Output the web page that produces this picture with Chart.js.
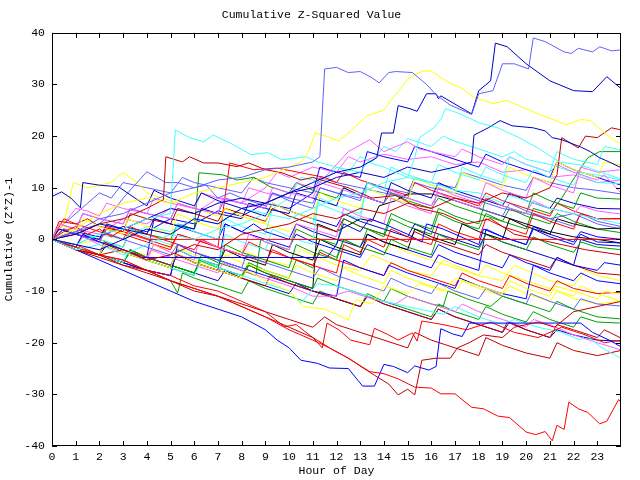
<!DOCTYPE html>
<html>
<head>
<meta charset="utf-8">
<script src="https://cdn.jsdelivr.net/npm/chart.js@4"></script>
<style>
  html, body { margin: 0; padding: 0; background: #fff; }
  #wrap { width: 640px; height: 480px; }
</style>
</head>
<body>
<div id="wrap"><canvas id="chart" width="640" height="480"></canvas></div>
<script>
// Tick values
const hourTicks = [0,1,2,3,4,5,6,7,8,9,10,11,12,13,14,15,16,17,18,19,20,21,22,23];
const valueTicks = [-40,-30,-20,-10,0,10,20,30,40];

// Each walk: [hour, cumulative value] breakpoints
const walkA = [[0,0],[1,1.5],[2,4],[3,5],[4,7],[5,9],[6,10],[7,11.5],[8,12],[9,13.5],[10,14],[11,15],[11.3,16],[11.5,33],[12,33.3],[12.5,32.3],[13,32.5],[13.5,31.3],[13.8,30.3],[14.2,32.3],[14.5,32.5],[15.2,32.3],[15.8,30],[16.2,28],[16.8,26],[17.7,24.2],[18,28.2],[18.6,28.8],[19,34],[19.5,34],[20.1,33],[20.3,39],[20.8,38.3],[21.6,36.3],[21.9,36],[22.2,37],[22.8,36.3],[23.1,37.3],[23.6,36.5],[24,36.7]];
const walkB = [[0,0],[1,-1],[2,-2],[3,0],[4,2],[5,1],[6,4],[7,3],[8,6],[9,7],[10,9],[11,11],[12,13],[13,14],[13.7,15.8],[13.9,20.6],[14.4,20.6],[14.6,25.9],[15.1,25.3],[15.4,24.8],[15.8,28.2],[16.2,28.2],[16.3,27.2],[16.4,27.8],[17.7,24.3],[18,28.8],[18.5,30.7],[18.7,38],[19.2,37.3],[20,34],[21,30.7],[22,28.8],[22.8,28.6],[23.4,31.5],[24,29.2]];
const walkC = [[0,0],[1,2],[2,5],[3,7],[4,8],[5,7],[6,9],[7,10],[8,11],[9,12],[10,14],[10.5,15],[10.8,16.8],[11.1,20.6],[11.7,19.8],[12.1,19],[12.6,21],[13.3,24],[14,25],[14.3,26.9],[15,31],[15.6,32.6],[16,32.6],[16.6,30.7],[17.3,29.2],[17.8,27.5],[18.6,26.3],[19.2,26.9],[19.7,25.9],[20.5,24.3],[21.7,22.2],[22.3,23.2],[22.7,23],[23.4,20.3],[24,18.3]];
const walkD = [[0,0],[1,-1],[2,1],[3,2],[4,4],[5,5],[5.2,21.2],[5.8,19.7],[6.4,18.9],[6.8,20.2],[7.5,18.7],[8.4,16.4],[9.1,16.8],[9.7,15.4],[10.7,16],[11.2,15],[12,14],[13,13],[13.3,15],[14,14],[15,12],[16,11],[17,9.5],[18,9],[19,7],[19.3,8.5],[20,7.5],[21,6],[22,5],[23,4],[24,3]];
const walkE = [[0,0],[1,-2],[2,-1],[3,-3],[4,-1],[5,1],[6,0],[7,2],[8,3],[9,5],[10,4],[11,6],[12,8],[13,9],[14,11],[15,12],[15.3,15.8],[15.5,19.7],[16.1,21.6],[16.4,23.2],[16.6,25.3],[17.1,24.5],[17.6,23.5],[18,22.6],[18.8,21.6],[19.7,19.7],[20.5,17.7],[21.4,15],[22.3,14.4],[23.1,13.1],[24,11.7]];
const walkF = [[0,0],[1,1],[2,3],[3,2],[4,4],[5,6],[6,5],[7,7],[8,8],[9,7],[10,9],[11,10],[12,12],[13,13],[14,12],[15,14],[16,13],[17,14],[17.7,15],[17.8,20.2],[18.4,21.6],[18.9,23],[19.4,22],[20.3,21.6],[20.8,21],[21.1,19.7],[21.5,19.3],[22.3,17.9],[22.7,17],[23.1,15.8],[23.5,15],[24,13.9]];
const walkG = [[0,0],[1,-2],[2,-3],[3,-2],[4,-4],[5,-3],[6,-1],[7,-2],[8,1],[9,2],[10,3],[11,5],[12,4],[13,6],[14,5],[15,7],[16,6],[17,8],[18,7],[19,9],[20,8],[21,10],[21.3,12.5],[21.5,19.7],[22.2,17.7],[22.5,20],[23,19.7],[23.6,21.6],[24,21.2]];
const walkH = [[0,0],[1,1],[2,3],[3,4],[4,6],[4.7,7.7],[4.8,16],[5.5,15],[5.8,16],[6.4,14.8],[7,14.8],[7.8,14.1],[8.3,14.8],[9,13.5],[9.7,12.9],[10.5,11.5],[11,12],[11.8,10.9],[12.5,10],[13.5,8],[14.5,8.5],[15.5,6],[16.5,5],[17.5,3],[18.5,4],[19.5,1],[20.5,0],[21.5,-1],[22.5,-2],[24,-3]];
const walkI = [[0,0],[1,-1.5],[2,-3],[3,-4],[4,-6],[5,-8],[6,-9.5],[7,-11],[8,-13],[9,-15],[10,-17.5],[11,-19.5],[11.7,-21],[12.5,-23],[13.4,-25.6],[14,-26],[14.6,-27],[15.3,-28.6],[16,-28.8],[16.4,-29.9],[17,-29.9],[17.7,-32.5],[18.2,-32.8],[18.8,-34.2],[19.3,-34.5],[20,-37.3],[20.4,-37.8],[20.8,-37.2],[21.1,-39],[21.3,-36],[21.6,-36.8],[21.8,-31.5],[22.2,-32.8],[22.6,-33.5],[23.1,-35.7],[23.4,-35.2],[23.9,-31],[24,-31.6]];
const walkJ = [[0,0],[1,-2],[2,-3],[3,-5],[4,-6],[5,-8],[6,-10],[7,-11],[8,-13],[9,-15],[10,-17],[11,-19],[11.7,-21],[12.5,-23],[13.6,-26.3],[14.2,-28],[14.6,-30.1],[15,-29],[15.3,-30.1],[15.6,-23.4],[16.2,-23],[16.8,-23],[17.1,-21],[17.6,-20],[18.2,-18.5],[19,-19],[19.5,-17],[20.5,-16],[21.2,-17],[22,-14],[23,-13],[24,-12]];
const walkK = [[0,0],[1,-2],[2,-4],[3,-6],[4,-8],[5,-10],[6,-12],[7,-13.5],[8,-15],[9,-17.5],[9.5,-19.5],[10,-21],[10.5,-23.4],[11.2,-24],[11.7,-24.9],[12.5,-25],[13.1,-28.4],[13.6,-28.4],[14,-24.2],[14.4,-24.6],[15,-25.8],[15.3,-24.5],[15.9,-25.3],[16.2,-24.6],[16.4,-17.3],[16.9,-18.3],[17.3,-18.8],[17.6,-16.2],[22.3,-16.2],[22.8,-18],[23.5,-19.5],[24,-20.8]];
const walkN = [[0,0],[1,-1],[2,-3],[3,-4],[4,-6],[5,-7],[6,-9],[7,-10],[8,-12],[9,-14],[9.8,-16.9],[10.3,-16.5],[11,-19],[11.4,-21],[11.6,-16.2],[12.1,-17.5],[12.6,-19.5],[13.4,-20.4],[13.6,-17.2],[14.2,-18.5],[14.6,-19.5],[15.2,-18.1],[15.4,-19.7],[15.6,-15.8],[16.5,-16.5],[17.5,-17.5],[18.5,-16],[19.5,-18],[20.5,-19],[21.5,-17],[22.5,-18.5],[23.3,-20],[24,-19.5]];
const walkFlatR = [[0,0],[0.5,1.5],[1,2.5],[1.5,1],[2,2],[2.5,0.5],[3,2],[3.5,1],[4.1,0],[24,0]];
const walkFlatB = [[0,0],[1,-1.5],[1.3,1],[2,-0.5],[3,-2],[3.8,-3.5],[11.6,-3.5],[12,-1],[12.3,3],[13,1.5],[13.4,4],[14,3],[15,1],[15.6,-0.5],[15.8,3],[16.5,2],[17.5,0],[18,-1],[18.2,2],[19,0.5],[20,-1],[20.3,2],[21,0.5],[22,-1],[22.3,1],[23,-0.5],[24,-0.7]];
const walkY3 = [[0,0],[1,-1.5],[2,-3],[2.2,-1],[3,-2.5],[4,-4],[5,-5.5],[5.2,-3],[6,-4.5],[7,-6],[8,-7.5],[8.2,-6],[9,-8],[10,-10],[10.6,-13],[11.5,-13.5],[12.5,-15.6],[12.8,-11.7],[13.5,-12.5],[14,-9],[15,-10.5],[15.5,-8.5],[16.5,-10],[17,-7.5],[18,-9],[19,-10.5],[19.3,-8],[20,-9.5],[21,-11],[21.2,-9],[22,-10],[23,-11.5],[23.3,-10],[24,-10.6]];
const walkC3 = [[0,0],[1,-1.5],[2,-3],[3,-4.5],[3.2,-2.5],[4,-4],[5,-5.5],[6,-7],[6.3,-4],[7,-5.5],[8,-7],[9,-8.5],[10,-10],[10.5,-12.3],[11.2,-8.6],[12,-9],[13,-10.5],[14,-12],[15,-13],[15.5,-13.5],[16.5,-14.5],[17,-13],[18,-15],[19,-16.5],[19.5,-15.5],[20.5,-17],[21.5,-18],[22.3,-19.5],[22.5,-18.5],[23.2,-21],[24,-23]];
const walkM3 = [[0,0],[1,-1.5],[1.3,0.5],[2,-1],[3,-2.5],[4,-4],[4.2,-2],[5,-3.5],[6,-5],[7,-6.5],[7.2,-4.5],[8,-6],[9,-7.5],[10,-9],[11,-11],[11.8,-11],[12.5,-10],[13.5,-11.5],[14.5,-12.5],[15,-11],[16,-12.5],[17,-14],[17.3,-12.5],[18,-14],[19,-15.5],[20,-17],[20.3,-15.5],[21,-16.5],[22,-18.5],[23,-20],[24,-21.4]];
const walkDR3 = [[0,0],[1,-1.5],[2,-3],[2.2,-0.5],[3,-2],[4,-3.5],[5,-5],[5.3,-3],[6,-4.5],[7,-6],[8,-7.5],[9,-9],[9.2,-7],[10,-8.5],[11,-10],[12,-11.5],[13,-13],[13.3,-11],[14,-12.5],[15,-14],[16,-15.5],[16.3,-13.5],[17,-15],[18,-16.5],[19,-18],[19.2,-16],[20,-17.5],[21,-19],[21.3,-16.5],[22,-17.5],[23,-19],[23.3,-17.5],[24,-19.1]];
const walkG3 = [[0,0],[1,-1.5],[2,-3],[3,-4.5],[3.3,-2.5],[4,-4],[5,-5.5],[6,-7],[6.2,-4],[7,-5.5],[8,-7],[8.3,-5],[9,-6.5],[10,-8],[11,-9.5],[11.2,-7.5],[12,-9],[13,-10.5],[14,-12],[14.3,-9.5],[15,-11],[16,-12.5],[16.5,-13],[16.7,-10],[17.5,-11.5],[18.5,-13],[19,-11],[20,-12.5],[21,-14],[21.3,-12],[22,-13.5],[23,-15],[24,-15.4]];
const walkLB3 = [[0,0],[0.5,2],[1,1],[2,-0.5],[2.2,1.5],[3,0],[4,-1.5],[5,-3],[5.3,-1],[6,-2.5],[7,-4],[8,-5.5],[8.2,-3],[9,-4.5],[10,-6],[11,-7.5],[11.3,-5.5],[12,-7],[13,-8.5],[14,-10],[14.3,-7.5],[15,-9],[16,-10.5],[16.3,-8.5],[17,-10],[18,-11.5],[18.3,-9.5],[19,-11],[20,-12.5],[20.2,-10.5],[21,-12],[22,-13.5],[22.3,-11.5],[23,-12.5],[24,-12.9]];
const walkB4 = [[0,0],[1,-1.5],[2,-3],[3,-4.5],[4,-6],[5,-7],[5.3,-1],[6,-2.5],[7,-4],[8,-5.5],[9,-7],[10,-8.5],[11,-10],[12,-11],[12.3,-4],[13,-5.5],[14,-7],[14.2,-5],[15,-6.5],[16,-8],[17,-9.5],[17.2,-7.5],[18,-9],[19,-10.5],[20,-11.5],[20.3,-5],[21,-6.5],[22,-8],[22.3,-6.5],[23,-8],[24,-8.6]];
const walkM4 = [[0,0],[0.3,3],[1,2],[1.3,5],[2,4],[3,3],[3.3,6],[4,5],[5,4],[5.3,7],[6,6],[7,5],[7.2,8],[8,7],[9,6],[9.3,10],[10,9],[11,8],[11.3,11],[12,10],[13,8.5],[14,7],[14.3,9.5],[15,8],[16,6.5],[16.3,9],[17,7.5],[18,6],[18.3,8],[19,6.5],[20,5],[20.3,7.5],[21,6],[22,5],[22.3,6.5],[23,5.5],[24,4.9]];
const walkM5 = [[0,0],[1,-1.5],[1.3,1],[2,-0.5],[3,-2],[4,-3.5],[4.3,-1],[5,-2.5],[6,-4],[6.2,0],[7,-1.5],[8,-3],[8.3,1],[9,-0.5],[10,-2],[10.3,3],[11,2],[12,0.5],[12.3,6],[13,4.5],[14,3],[14.3,8],[15,6.5],[16,5],[16.3,10],[17,8.5],[18,7],[18.3,11],[19,9.5],[20,8],[20.3,12],[21,10.5],[22,9],[22.3,14],[23,13],[24,13.5]];
const walkC4 = [[0,0],[1,-1.5],[2,-3],[2.3,-0.5],[3,-2],[4,-3.5],[5,-5],[5.3,-2],[6,-3.5],[7,-5],[7.3,1],[8,-0.5],[9,-2],[9.3,2],[10,0.5],[11,-1],[11.2,7],[12,5.5],[13,4],[13.3,11],[14,9.5],[14.3,14],[15,12.5],[16,11],[16.3,14.5],[17,13],[18,11.5],[18.3,14],[19,12.5],[20,11],[20.3,13.5],[21,12],[22,10.5],[22.3,12.5],[23,11],[24,10.8]];
const walkY4 = [[0,0],[0.3,3],[1,1.5],[1.3,4],[2,2.5],[3,1],[3.2,4],[4,2.5],[5,1],[5.3,5],[6,3.5],[7,2],[7.3,6],[8,4.5],[9,3],[9.3,7],[10,5.5],[11,4],[11.3,9],[12,7.5],[13,6],[13.3,10],[14,8.5],[15,7],[15.3,12],[16,10.5],[17,9],[17.3,13],[18,11.5],[19,10],[19.3,14],[20,12.5],[21,11],[21.3,15],[22,13.5],[23,12],[23.3,15],[24,14.4]];
const walkG4 = [[0,0],[1,-1.5],[2,-3],[3,-4.5],[3.3,-2],[4,-3.5],[5,-5],[6,-6.5],[6.3,-3],[7,-4.5],[8,-6],[8.6,-7],[8.8,0],[9,-0.5],[10,-2],[10.3,2],[11,0.5],[12,-1],[12.3,4],[13,2.5],[14,1],[14.3,5],[15,3.5],[16,2],[16.3,6],[17,4.5],[18,3],[18.3,8],[19,6.5],[20,5],[20.3,9],[21,7.5],[22,6],[22.3,9],[23,8],[24,7.8]];
const walkDB5 = [[0,0],[0.3,2],[1,1],[2,0],[2.3,3],[3,2],[4,1],[4.3,4],[5,3],[6,2],[6.3,6],[7,5],[8,4],[8.3,7],[9,6],[10,5],[10.3,9],[11,8],[12,6.5],[12.3,10],[13,8.5],[14,7],[14.3,11],[15,9.5],[16,8],[16.3,11],[17,9.5],[18,8],[19,6.5],[19.3,9],[20,7.5],[21,6],[21.3,8],[22,7],[23,6],[24,5.9]];
const walkR5 = [[0,0],[0.5,4],[1,3],[2,1.5],[3,0],[3.3,2.5],[4,1],[5,-0.5],[6,-2],[6.3,0],[7,-1.5],[8,-3],[9,-4.5],[9.3,-2],[10,-3.5],[11,-5],[12,-6.5],[12.3,-1],[13,-2.5],[13.3,0],[14,-1.5],[14.3,2],[15,0.5],[16,-1],[16.3,3],[17,1.5],[18,0],[18.3,4],[19,2.5],[20,1],[20.3,5],[21,3.5],[22,2],[22.3,5],[23,4],[24,4]];
const walkK2 = [[0,0],[1,-1.5],[2,-3],[2.3,-1],[3,-2.5],[4,-4],[5,-5.5],[5.3,-2],[6,-3.5],[7,-5],[7.3,-2],[8,-3.5],[9,-5],[9.3,-1],[10,-2.5],[11,-4],[11.3,0],[12,-1.5],[13,-3],[13.3,1],[14,-0.5],[15,-2],[15.3,2],[16,0.5],[17,-1],[17.3,3],[18,1.5],[19,0],[19.3,4],[20,2.5],[21,1],[21.3,4],[22,3],[23,2],[24,2.2]];
const walkG5 = [[0,0],[1,-1.5],[2,-3],[3,-4.5],[3.3,-2],[4,-3.5],[5,-5],[6,-6.5],[6.3,-4],[7,-5.5],[7.3,-1],[8,-2.5],[9,-4],[10,-5.5],[10.3,-1],[11,-2.5],[12,-4],[12.3,0],[13,-1.5],[14,-3],[14.3,0],[15,-1.5],[16,-3],[16.3,1],[17,-0.5],[18,-2],[18.3,1],[19,-0.5],[20,-2],[20.3,0.5],[21,-1],[22,-2.5],[22.3,-0.5],[23,-1.5],[24,-2]];
const walkB6 = [[0,0],[1,-1.5],[2,-3],[3,-4.5],[4,-6],[5,-7],[5.2,-3],[6,-4.5],[7,-6],[7.3,3],[8,1.5],[8.5,3],[9,1.5],[10,0],[10.3,3],[11,1.5],[12,0],[13,-1.5],[13.3,1],[14,-0.5],[15,-2],[16,-3.5],[16.3,-1],[17,-2.5],[18,-4],[19,-5.5],[19.3,-3],[20,-4.5],[21,-6],[21.3,-3.5],[22,-5],[23,-6],[23.3,-4.5],[24,-5]];
const walkDR6 = [[0,0],[0.3,3.5],[1,3],[1.5,4],[2,2.5],[3,1.5],[3.3,5],[4,4],[5,3],[5.3,6],[6,5],[7,3.5],[7.3,6],[8,5],[9,3.5],[9.3,6],[10,4.5],[11,3],[12,1.5],[12.3,4],[13,2.5],[14,1],[15,-0.5],[15.3,1.5],[16,0],[17,-1.5],[18,-3],[18.3,-1],[19,-2.5],[20,-4],[21,-5.5],[21.3,-3.5],[22,-5],[23,-6.5],[24,-6.9]];
const walkY5 = [[0,0],[1,-1.5],[1.3,1],[2,-0.5],[3,-2],[4,-3.5],[4.3,-1],[5,-2.5],[6,-4],[7,-5.5],[7.3,-3],[8,-4.5],[9,-6],[10,-7.5],[10.3,-5],[11,-6.5],[12,-8],[12.3,-5.5],[13,-7],[14,-8.5],[14.3,-6],[15,-7.5],[16,-9],[17,-10.5],[17.3,-8],[18,-9.5],[19,-11],[19.3,-9],[20,-10.5],[21,-12],[21.3,-10],[22,-11.5],[23,-12.5],[24,-11.9]];
const walkC5 = [[0,0],[1,-1.5],[1.3,1],[2,0],[3,-1.5],[3.3,2],[4,0.5],[5,-1],[5.3,3],[6,1.5],[7,0],[7.3,4],[8,2.5],[9,1],[9.3,6],[10,4.5],[11,3],[11.3,8],[12,6.5],[13,5],[13.3,10],[14,8.5],[15,7],[15.3,12],[16,10.5],[17,9],[17.3,14],[18,12.5],[19,11],[19.3,16],[20,14.5],[21,13],[21.3,17],[22,15.5],[23,14.5],[23.3,18],[24,17.3]];
const walkB7 = [[0,0],[0.5,2],[1,1],[2,-0.5],[3,-2],[4,-3.5],[4.3,4],[5,3],[6,1.5],[7,0],[7.3,3],[8,1.5],[9,0],[10,-1.5],[10.3,1],[11,-0.5],[12,-2],[13,-3.5],[13.3,-1],[14,-2.5],[15,-4],[16,-5.5],[16.3,-3],[17,-4.5],[18,-6],[18.3,2],[19,0.5],[20,-1],[20.3,2.5],[21,1],[22,-0.5],[22.3,1.5],[23,0.5],[24,0]];
const walkDB8 = [[0,0],[1,-1.5],[2,-3],[3,-4.5],[3.3,-2],[4,-3.5],[5,-5],[6,-6.5],[7,-8],[7.3,-6],[8,-7.5],[9,-9],[10,-10.5],[10.3,-8.5],[11,-10],[12,-11.5],[13,-13],[13.3,-11],[14,-12.5],[15,-14],[16,-15.5],[16.3,-13.5],[17,-15],[18,-16.5],[19,-18],[19.3,-16],[20,-17.5],[21,-19],[21.3,-17.5],[22,-18.5],[23,-19.5],[24,-19.7]];
const walkLB9 = [[0,0],[0.3,3],[1,2],[1.3,5],[2,4],[3,3],[3.3,6],[4,5],[5,4],[5.3,7],[6,6],[7,5],[7.3,8],[8,7],[9,6],[9.3,9],[10,8],[11,7],[11.3,10],[12,9],[13,8],[13.3,11],[14,10],[15,9],[15.3,12],[16,11],[17,10],[17.3,13],[18,12],[19,10.5],[20,9.5],[20.3,12],[21,11],[22,10],[23,9.5],[24,8.8]];
const walkR9 = [[0,0],[0.3,2],[1,1],[2,0],[2.3,2.5],[3,1.5],[4,0],[5,-1.5],[5.3,1],[6,0],[7,-1.5],[8,-3],[8.3,-0.5],[9,-2],[10,-3.5],[11,-5],[11.3,-2.5],[12,-4],[13,-5.5],[14,-7],[14.3,-4.5],[15,-6],[16,-7.5],[17,-9],[17.3,-6.5],[18,-8],[19,-9.5],[19.3,-7],[20,-8.5],[21,-10],[21.3,-8],[22,-9.5],[23,-10.5],[24,-10.2]];
const walkG6 = [[0,0],[1,-1.5],[2,-3],[3,-4.5],[4,-6],[5,-8],[5.3,-10.4],[5.5,-6.5],[6,-7.5],[7,-9],[8,-10.5],[8.3,-8],[9,-9.5],[10,-11],[11,-12.5],[11.3,-10],[12,-11.5],[13,-13],[13.3,-10.5],[14,-12],[15,-13.5],[16,-15],[16.3,-12.5],[17,-14],[18,-15.5],[18.3,-13],[19,-14.5],[20,-16],[20.3,-14],[21,-15.5],[22,-17],[22.3,-15],[23,-16],[24,-16.2]];
const walkDB2 = [[0,8.3],[0.4,9.2],[0.8,8],[1.2,6.1],[1.3,11],[2,10.5],[2.8,10.2],[3.5,8],[4,6.5],[4.3,9.5],[5,8],[6,6.5],[6.3,9],[7,7.5],[8,6],[9,4.5],[9.3,7],[10,5.5],[11,4],[12,2.5],[12.3,5],[13,3.5],[14,2],[15,0.5],[15.3,3],[16,1.5],[17,0],[18,-1.5],[18.3,1],[19,-0.5],[20,-2],[21,-3.5],[22,-5],[22.3,0],[23,-1],[24,-1.3]];
const walkLB2 = [[0,0],[1,1.5],[2,3],[2.5,5],[3,8],[4,13.1],[4.8,11],[5.3,11],[6,10],[6.5,10.5],[7,8],[7.5,9],[8,8],[9,6.5],[9.3,9],[10,7.5],[11,6],[11.3,10],[12,9],[13,7.5],[13.3,11],[14,9.5],[15,8],[16,6.5],[16.3,9],[17,7.5],[18,6],[19,4.5],[19.3,7],[20,5.5],[21,4],[22,2.5],[22.3,5],[23,3.5],[24,2.5]];
const walkY2 = [[0,0],[0.5,3],[0.9,11],[1.5,10],[2.5,11],[3,13],[3.6,11],[4,9],[5,7.5],[6,6],[7,4.5],[7.3,6],[8,4.5],[9,3],[10,1.5],[10.3,3],[11,1.5],[12,0],[13,-1.5],[14,-3],[14.3,-1],[15,-2.5],[16,-4],[17,-5.5],[18,-7],[18.3,-5],[19,-6.5],[20,-8],[21,-9.5],[22,-11],[22.3,-9],[23,-10.5],[24,-12]];
const walkM1 = [[0,0],[0.5,3],[1,6],[1.5,5.5],[2,4.5],[2.3,7],[3,6],[4,5],[4.3,8],[5,7],[6,6],[6.3,9],[7,8],[8,7],[8.3,10],[9,9],[10,8],[10.3,11],[11,10],[11.5,12],[12.5,17],[13.4,19.3],[14,17],[15,18.9],[15.5,17.5],[16,17],[17,16],[17.3,17.5],[18,16],[19,14.5],[19.3,16],[20,14.5],[21,13],[21.3,14.5],[22,13],[23,11.5],[23.3,12.5],[24,9]];
const walkK1 = [[0,0],[1,-1.5],[2,-3],[2.3,-1],[3,-2.5],[4,-4],[5,-5.5],[5.3,-3],[6,-4.5],[7,-6],[8,-7.5],[8.3,-5],[9,-6.5],[10,-8],[11,-9.5],[11.2,3],[12,1.5],[12.4,2.5],[13,4],[13.5,3.5],[13.8,6.5],[14.5,7.5],[15,8.8],[16,8.8],[17,7.5],[18,6],[19,4.5],[20,3],[21,1.5],[22,0.5],[23,0],[24,-0.7]];
const walkR2 = [[0,0],[0.5,2],[1,1],[2,-0.5],[2.3,2],[3,1],[4,-0.5],[5,-2],[5.3,1],[6,0],[7,-1.5],[7.5,14.8],[8.5,13.5],[9.5,13.8],[10.5,12.9],[11.5,12],[12,11],[12.3,13],[13,11.5],[14,10],[15,8.5],[15.3,11],[16,9.5],[17,8],[18,6.5],[18.3,9],[19,7.5],[20,6],[21,4.5],[21.3,7],[22,5.5],[23,4],[24,4]];
const walkG1 = [[0,0],[1,-1.5],[1.3,1],[2,0],[3,-1.5],[3.3,2],[4,1],[5,0],[5.3,3],[6,2],[6.2,12.9],[7.2,12.5],[7.8,11.5],[8.5,12],[9.2,10.2],[10,9],[10.3,11],[11,9.5],[12,8],[12.3,10],[13,8.5],[14,7],[14.3,9],[15,7.5],[16,6],[16.3,8],[17,6.5],[18,5],[19,3.5],[19.3,6],[20,4.5],[21,3],[21.3,5],[22,3.5],[23,2],[24,1.3]];
const walkG2 = [[0,0],[1,-1.5],[2,-3],[3,-4.5],[3.3,-2],[4,-3.5],[5,-5],[6,-6.5],[6.3,-4],[7,-5.5],[8,-7],[8.3,-4.5],[9,-6],[10,-7.5],[10.3,-4],[11,-5.5],[11.3,-2],[12,-3.5],[12.3,0],[13,-1.5],[13.3,2],[14,0.5],[14.3,4],[15,2.5],[16,1],[16.3,5],[17,3.5],[18,2],[18.3,5],[19,3.5],[20,2],[20.3,6],[21,5],[21.5,8],[22,11.7],[22.6,15.8],[23.1,17],[24,17]];
const walkU1 = [[0,0],[1,-1],[2,1],[3,0],[4,2.5],[5,1.5],[6,4],[7,3],[8,6],[9,5],[10,8],[10.5,12],[11.5,11],[12,14],[12.5,13],[13,16],[13.5,15],[14,18],[14.5,17],[15,19.5],[16,18],[16.5,20],[17,19],[18,17.5],[19,16],[19.5,17],[20,15.5],[21,14.5],[22,13],[23,12.5],[24,11.5]];
const walkU2 = [[0,0],[1,1.5],[2,0.5],[3,2.5],[4,1.5],[5,4],[6,3],[7,5.5],[8,4.5],[9,7],[10,6],[11,9],[11.3,14],[12,13],[13,12],[13.3,17],[14,16],[15,15],[15.3,18],[16,17],[17,15.5],[18,14],[18.3,16.5],[19,15],[20,13.5],[21,12],[21.3,15],[22,13.5],[23,12],[24,10.5]];
const walkU3 = [[0,0],[1,2],[2,1],[3,4],[4,3],[5,6],[6,5],[7,8],[8,7],[9,10],[9.5,13],[10,12],[11,14],[12,13],[12.5,16],[13,15],[14,16.5],[15,15.5],[16,16],[17,14.5],[18,15],[19,13],[20,13.5],[21,12],[22,12.5],[23,11],[24,11.5]];
const walkU4 = [[0,0],[0.5,3],[1,5],[1.5,7],[2,9],[2.5,8],[3,11],[4,10],[5,9],[5.5,12],[6,11],[7,10],[8,9],[8.5,12],[9,11],[10,10],[11,9],[11.3,12],[12,11],[13,10],[14,9],[15,8],[15.3,11],[16,10],[17,9],[18,7.5],[19,6],[20,5],[21,4],[22,5],[23,3],[24,2]];
const walkU5 = [[0,0],[1,-2],[2,-3.5],[3,-5],[4,-6.5],[5,-8],[6,-9.5],[7,-11],[8,-12.5],[9,-14],[10,-15.5],[11,-17],[11.5,-15],[12,-16.5],[13,-18],[14,-19.5],[15,-21],[15.3,-18],[16,-19.5],[17,-21],[18,-22.5],[18.3,-19],[19,-20.5],[20,-22],[21,-23],[21.3,-20],[22,-21.5],[23,-22.5],[24,-21.5]];
const walkU6 = [[0,0],[1,-1],[2,0],[3,-2],[4,-3],[5,-1],[6,-3],[7,-4],[8,-2],[9,-4],[10,-5],[10.5,-2],[11,-3],[12,-5],[13,-6],[13.5,-3],[14,-4],[15,-6],[16,-7],[16.5,-4],[17,-5],[18,-7],[19,-8],[19.5,-5],[20,-6],[21,-8],[22,-9],[22.5,-6],[23,-7],[24,-8]];

const walks = [walkA, walkB, walkC, walkD, walkE, walkF, walkG, walkH, walkI, walkJ, walkK, walkN,
  walkFlatR, walkFlatB, walkY3, walkC3, walkM3, walkDR3, walkG3, walkLB3, walkB4, walkM4, walkM5,
  walkC4, walkY4, walkG4, walkDB5, walkR5, walkK2, walkG5, walkB6, walkDR6, walkY5, walkC5, walkB7,
  walkDB8, walkLB9, walkR9, walkG6, walkDB2, walkLB2, walkY2, walkM1, walkK1, walkR2, walkG1, walkG2,
  walkU1, walkU2, walkU3, walkU4, walkU5, walkU6];

const walkColors = ['#6060ff', '#0000c0', '#ffff00', '#40ffff', '#40ffff', '#0000c0', '#c00000', '#c00000', '#ff0000', '#c00000', '#0000ff', '#ff0000',
  '#ff0000', '#0000ff', '#ffff00', '#40ffff', '#ff60ff', '#c00000', '#00a000', '#6060ff', '#0000ff', '#ff60ff', '#ff60ff',
  '#40ffff', '#ffff00', '#00a000', '#0000c0', '#ff0000', '#000000', '#00a000', '#0000ff', '#c00000', '#ffff00', '#40ffff', '#0000ff',
  '#0000c0', '#6060ff', '#ff0000', '#00a000', '#0000c0', '#6060ff', '#ffff00', '#ff60ff', '#000000', '#ff0000', '#00a000', '#00a000',
  '#40ffff', '#0000ff', '#ff60ff', '#6060ff', '#c00000', '#ffff00'];

document.addEventListener('DOMContentLoaded', () => {
    const monoFont = { family: "'Liberation Mono', 'DejaVu Sans Mono', monospace", size: 11.5 };

    // gnuplot style frame with inward ticks on all four sides
    const framePlugin = {
        id: 'frame',
        afterDatasetsDraw(chart) {
            const { ctx, chartArea: a, scales } = chart;
            ctx.save();
            ctx.strokeStyle = '#000';
            ctx.lineWidth = 1;
            ctx.beginPath();
            hourTicks.forEach(h => {
                const px = Math.round(scales.x.getPixelForValue(h)) + 0.5;
                ctx.moveTo(px, a.bottom); ctx.lineTo(px, a.bottom - 5);
                ctx.moveTo(px, a.top); ctx.lineTo(px, a.top + 5);
            });
            valueTicks.forEach(v => {
                const py = Math.round(scales.y.getPixelForValue(v)) + 0.5;
                ctx.moveTo(a.left, py); ctx.lineTo(a.left + 5, py);
                ctx.moveTo(a.right, py); ctx.lineTo(a.right - 5, py);
            });
            ctx.stroke();
            ctx.strokeRect(Math.round(a.left) + 0.5, Math.round(a.top) + 0.5,
                Math.round(a.width) - 1, Math.round(a.height) - 1);
            ctx.restore();
        }
    };

    const datasets = walks.map((w, i) => ({
        data: w.map(p => ({ x: p[0], y: p[1] })),
        borderColor: walkColors[i],
        borderWidth: 1,
        pointRadius: 0,
        tension: 0,
        fill: false
    }));

    const ctx = document.getElementById('chart').getContext('2d');
    new Chart(ctx, {
        type: 'line',
        data: { datasets },
        options: {
            responsive: false,
            animation: false,
            layout: { padding: { top: 6, right: 19, bottom: 2, left: 2 } },
            plugins: {
                legend: { display: false },
                tooltip: { enabled: false },
                title: {
                    display: true,
                    text: 'Cumulative Z-Squared Value',
                    color: '#000',
                    font: { ...monoFont, weight: 'normal' },
                    padding: { top: 2, bottom: 11 }
                }
            },
            scales: {
                x: {
                    type: 'linear',
                    min: 0,
                    max: 24,
                    afterBuildTicks: s => { s.ticks = hourTicks.map(v => ({ value: v })); },
                    ticks: { color: '#000', font: monoFont, padding: 4, maxRotation: 0, autoSkip: false },
                    grid: { display: false, drawTicks: false },
                    border: { display: false },
                    title: { display: true, text: 'Hour of Day', color: '#000', font: monoFont, padding: { top: 0, bottom: 0 } },
                    afterFit: s => { s.height = 32; }
                },
                y: {
                    min: -40,
                    max: 40,
                    afterBuildTicks: s => { s.ticks = valueTicks.map(v => ({ value: v })); },
                    ticks: { color: '#000', font: monoFont, padding: 7 },
                    grid: { display: false, drawTicks: false },
                    border: { display: false },
                    title: { display: true, text: 'Cumulative (Z*Z)-1', color: '#000', font: monoFont, padding: { top: 0, bottom: 0 } },
                    afterFit: s => { s.width = 50; }
                }
            }
        },
        plugins: [framePlugin]
    });
});
</script>
</body>
</html>
